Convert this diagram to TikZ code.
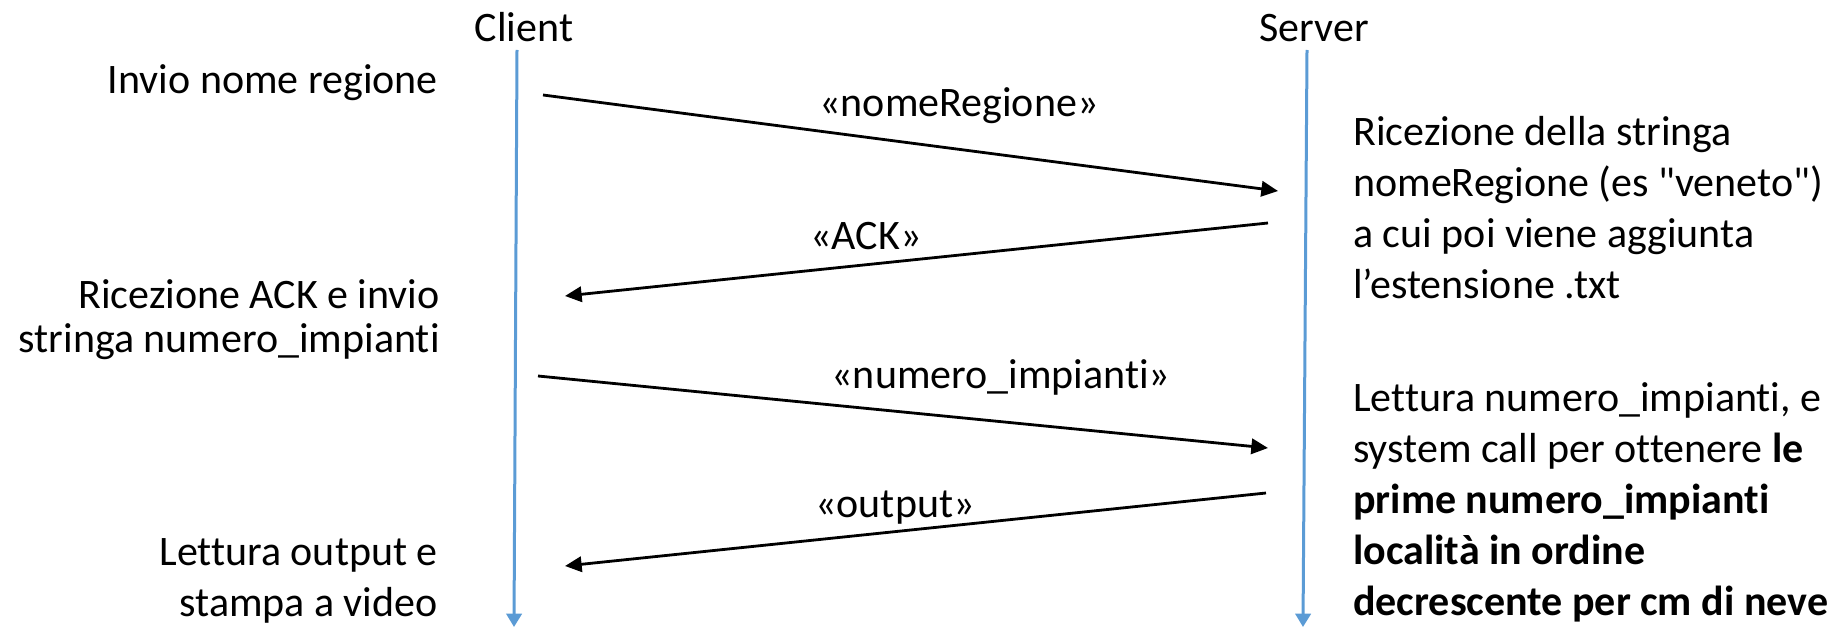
\documentclass[tikz,border=0pt]{standalone}
\usepackage{fontspec}
\newfontfamily\calibri{Carlito}[Ligatures=NoCommon]
\usetikzlibrary{arrows.meta}

\definecolor{lifeblue}{RGB}{91,155,213}

\tikzset{
  msg/.style={line width=2.1pt,-{Triangle[length=12.5pt,width=11.5pt]}},
  lifeline/.style={draw=lifeblue,line width=2.25pt,-{Triangle[length=10pt,width=11.5pt,fill=lifeblue]}},
  lbl/.style={inner sep=0pt,font=\calibri\fontsize{31.5}{38.25}\selectfont},
}

\begin{document}
\begin{tikzpicture}[x=0.75pt,y=0.75pt,yscale=-1,xscale=1]
        \useasboundingbox (0,0) rectangle (1837,627);

        % Text Node
        \node [lbl,anchor=base] (client) at (524,42) {Client};
        % Text Node
        \node [lbl,anchor=base] (server) at (1314,42) {Server};

        %Lifelines
        \coordinate (ctop) at (517,50);
        \coordinate (cbot) at (514,627);
        \coordinate (stop) at (1307,50);
        \coordinate (sbot) at (1303,627);
        \draw [lifeline] (ctop) -- (cbot);
        \draw [lifeline] (stop) -- (sbot);

        %Message end points
        \coordinate (c1) at (543,95);
        \coordinate (s1) at (1278,191);
        \coordinate (s2) at (1268,223);
        \coordinate (c2) at (565,296);
        \coordinate (c3) at (538,376);
        \coordinate (s3) at (1268,448);
        \coordinate (s4) at (1266,493);
        \coordinate (c4) at (565,566);

        %Straight Lines
        \draw [msg] (c1) -- (s1);
        \draw [msg] (s2) -- (c2);
        \draw [msg] (c3) -- (s3);
        \draw [msg] (s4) -- (c4);

        % Text Node
        \node [lbl,anchor=base] (nome) at (959,117) {«nomeRegione»};
        % Text Node
        \node [lbl,anchor=base] (ack) at (866,250) {«ACK»};
        % Text Node
        \node [lbl,anchor=base] (numero) at (1001,388) {«numero\_impianti»};
        % Text Node
        \node [lbl,anchor=base] (output) at (895,517) {«output»};

        % Text Node
        \node [lbl,anchor=base east] (invio) at (438,94) {Invio nome regione};
        % Text Node
        \node [lbl,anchor=base east,align=right,font=\calibri\fontsize{31.5}{33}\selectfont] (ricack) at (440,352) {Ricezione ACK e invio\\stringa numero\_impianti};
        % Text Node
        \node [lbl,anchor=base east,align=right] (stampa) at (438,616) {Lettura output e\\stampa a video};
        % Text Node
        \node [lbl,anchor=base west,align=left] (ricstr) at (1353,298) {Ricezione della stringa\\nomeRegione (es "veneto")\\a cui poi viene aggiunta\\l’estensione .txt};
        % Text Node
        \node [lbl,anchor=base west,align=left] (lettura) at (1353,615) {Lettura numero\_impianti, e\\system call per ottenere \textbf{le}\\\textbf{prime numero\_impianti}\\\textbf{località in ordine}\\\textbf{decrescente per cm di neve}};

\end{tikzpicture}
\end{document}
